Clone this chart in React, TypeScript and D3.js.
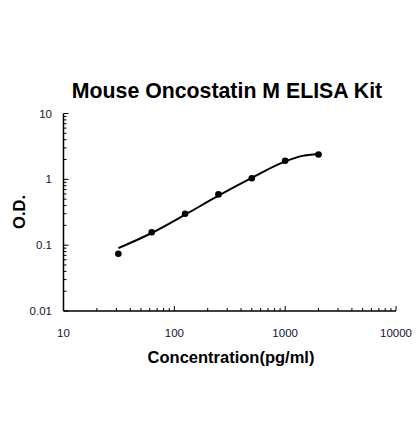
import * as d3 from "d3";

// ── Data ─────────────────────────────────────────────────────────────

const concentrations = [31.25, 62.5, 125, 250, 500, 1000, 2000];
const odValues = [0.074, 0.157, 0.3, 0.59, 1.04, 1.92, 2.38];

// fitted standard curve
const fitConc = [31.25, 62.5, 125, 250, 500, 1000, 1400, 2000];
const fitOd = [0.09, 0.153, 0.29, 0.565, 1.05, 1.87, 2.25, 2.42];

const xTicks = [10, 100, 1000, 10000];
const yTicks = [0.01, 0.1, 1, 10];

// ── Layout ───────────────────────────────────────────────────────────

const W = 420;
const H = 421;
const LEFT = 63.5;
const RIGHT = 396;
const TOP = 113.5;
const BOTTOM = 311;
const FONT = "'Liberation Sans', Arial, sans-serif";

function minorTicks(domain: [number, number]) {
  const out: number[] = [];
  for (let d = domain[0]; d < domain[1]; d *= 10) {
    for (let k = 2; k <= 9; k++) out.push(d * k);
  }
  return out;
}

export default function App() {
  const x = d3.scaleLog().domain([10, 10000]).range([LEFT, RIGHT]);
  const y = d3.scaleLog().domain([0.01, 10]).range([BOTTOM, TOP]);

  const line = d3
    .line<number>()
    .x((_, i) => x(fitConc[i]))
    .y((d) => y(d))
    .curve(d3.curveMonotoneX);

  return (
    <div style={{ position: "absolute", left: 0, top: 0 }}>
      <svg width={W} height={H} style={{ display: "block", background: "#fff" }}>
        {/* Title */}
        <text
          x={227}
          y={98}
          textAnchor="middle"
          fontFamily={FONT}
          fontWeight="bold"
          fontSize={21.3}
          fill="#000"
        >
          Mouse Oncostatin M ELISA Kit
        </text>

        {/* Axes */}
        <line x1={LEFT} x2={LEFT} y1={TOP} y2={BOTTOM} stroke="#000" strokeWidth={1.5} />
        <line x1={LEFT} x2={RIGHT} y1={BOTTOM} y2={BOTTOM} stroke="#000" strokeWidth={1.5} />

        {/* Y ticks */}
        {yTicks.map((t) => (
          <g key={`y${t}`}>
            <line x1={LEFT} x2={LEFT + 5} y1={y(t)} y2={y(t)} stroke="#000" strokeWidth={1} />
            <text
              x={52}
              y={y(t) + 4}
              textAnchor="end"
              fontFamily={FONT}
              fontSize={11.5}
              fill="#1a1030"
            >
              {t}
            </text>
          </g>
        ))}
        {minorTicks([0.01, 10]).map((t) => (
          <line
            key={`ym${t}`}
            x1={LEFT}
            x2={LEFT + 3}
            y1={y(t)}
            y2={y(t)}
            stroke="#000"
            strokeWidth={1}
          />
        ))}

        {/* X ticks */}
        {xTicks.map((t) => (
          <g key={`x${t}`}>
            <line x1={x(t)} x2={x(t)} y1={BOTTOM} y2={BOTTOM - 5} stroke="#000" strokeWidth={1} />
            <text
              x={x(t)}
              y={337}
              textAnchor="middle"
              fontFamily={FONT}
              fontSize={11.5}
              fill="#1a1030"
            >
              {t}
            </text>
          </g>
        ))}
        {minorTicks([10, 10000]).map((t) => (
          <line
            key={`xm${t}`}
            x1={x(t)}
            x2={x(t)}
            y1={BOTTOM}
            y2={BOTTOM - 3}
            stroke="#000"
            strokeWidth={1}
          />
        ))}

        {/* Axis titles */}
        <text
          x={231}
          y={363}
          textAnchor="middle"
          fontFamily={FONT}
          fontWeight="bold"
          fontSize={16.5}
          fill="#000"
        >
          Concentration(pg/ml)
        </text>
        <text
          transform={`translate(25,212) rotate(-90)`}
          textAnchor="middle"
          fontFamily={FONT}
          fontWeight="bold"
          fontSize={16.5}
          fill="#000"
        >
          O.D.
        </text>

        {/* Fitted curve */}
        <path d={line(fitOd) ?? ""} fill="none" stroke="#000" strokeWidth={2} />

        {/* Standards */}
        {concentrations.map((c, i) => (
          <circle key={c} cx={x(c)} cy={y(odValues[i])} r={3.3} fill="#000" />
        ))}
      </svg>
    </div>
  );
}
